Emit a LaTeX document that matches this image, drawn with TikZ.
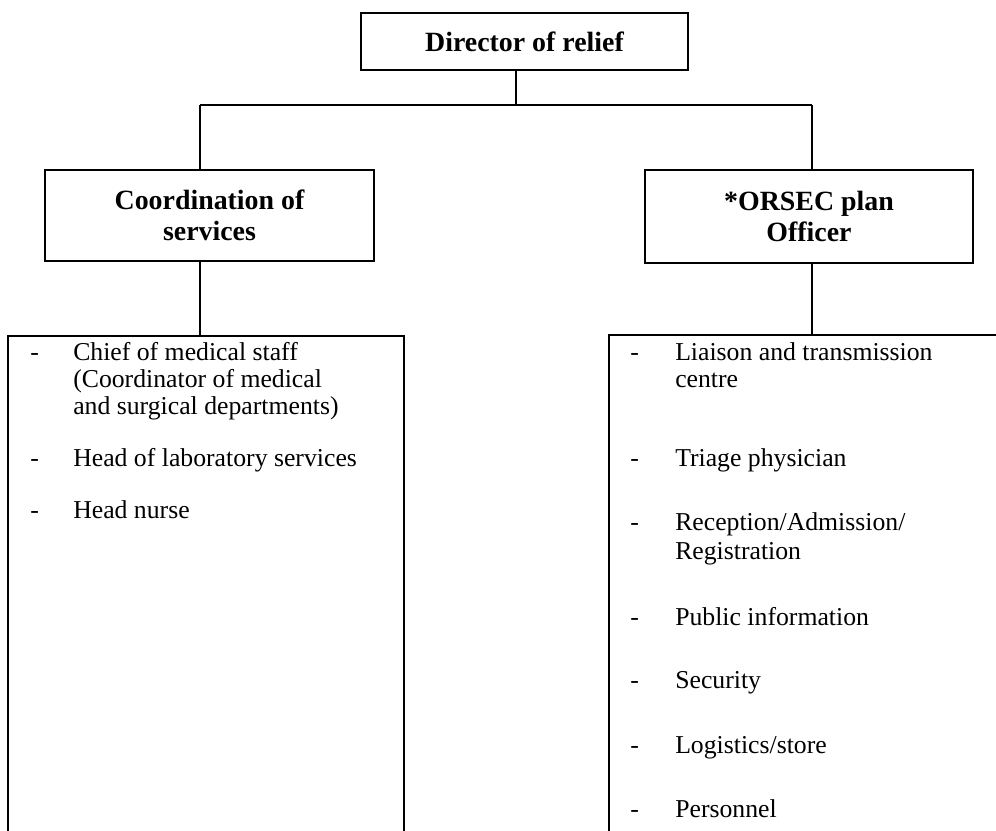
\documentclass[tikz,border=0pt]{standalone}
\usepackage{fontspec}
\setmainfont{Liberation Serif}
\begin{document}
\begin{tikzpicture}[x=0.75pt,y=-0.75pt,
  hbox/.style={draw, line width=1.4pt, align=center, inner sep=0pt,
    font=\fontsize{20.9}{23.25}\selectfont\bfseries},
  lbox/.style={draw, line width=1.4pt, inner sep=0pt},
  item/.style={anchor=base west, inner sep=0pt, font=\fontsize{19.3}{20.25}\selectfont},
  conn/.style={line width=1.4pt}]
\useasboundingbox (0,0) rectangle (996,831);
\clip (0,0) rectangle (996,831);
\fill[white] (0,0) rectangle (996,831);
% boxes
\node[hbox, minimum width=245.25pt, minimum height=42.75pt] (dir) at (524.5,41.5) {Director of relief};
\node[hbox, minimum width=246.75pt, minimum height=68.25pt] (coord) at (209.5,215.5) {Coordination of\\services};
\node[hbox, minimum width=246pt, minimum height=69.75pt] (orsec) at (809,216.5) {*ORSEC plan\\Officer};
\node[lbox, minimum width=297pt, minimum height=460.5pt] (llist) at (206,643) {};
\node[lbox, minimum width=368.25pt, minimum height=461.25pt] (rlist) at (854.5,642.5) {};
% connectors
\coordinate (tv) at (516,105);
\coordinate (hl) at (200,105);
\coordinate (hr) at (812,105);
\draw[conn] (tv |- dir.south) -- (tv);
\draw[conn] (hl) -- (hr);
\draw[conn] (hl) -- (hl |- coord.north);
\draw[conn] (hr) -- (hr |- orsec.north);
\draw[conn] (hl |- coord.south) -- (hl |- llist.north);
\draw[conn] (hr |- orsec.south) -- (hr |- rlist.north);
% left items
\node[item] (ld1) at (30,360) {-};
\node[item] (l1a) at (73,360) {Chief of medical staff};
\node[item] (l1b) at (73,387) {(Coordinator of medical};
\node[item] (l1c) at (73,414) {and surgical departments)};
\node[item] (ld2) at (30,466) {-};
\node[item] (l2) at (73,466) {Head of laboratory services};
\node[item] (ld3) at (30,518) {-};
\node[item] (l3) at (73,518) {Head nurse};
% right items
\node[item] (rd1) at (630,360) {-};
\node[item] (r1a) at (675,360) {Liaison and transmission};
\node[item] (r1b) at (675,387) {centre};
\node[item] (rd2) at (630,466) {-};
\node[item] (r2) at (675,466) {Triage physician};
\node[item] (rd3) at (630,530) {-};
\node[item] (r3a) at (675,530) {Reception/Admission/};
\node[item] (r3b) at (675,559) {Registration};
\node[item] (rd4) at (630,625) {-};
\node[item] (r4) at (675,625) {Public information};
\node[item] (rd5) at (630,688) {-};
\node[item] (r5) at (675,688) {Security};
\node[item] (rd6) at (630,753) {-};
\node[item] (r6) at (675,753) {Logistics/store};
\node[item] (rd7) at (630,817) {-};
\node[item] (r7) at (675,817) {Personnel};
\end{tikzpicture}
\end{document}
